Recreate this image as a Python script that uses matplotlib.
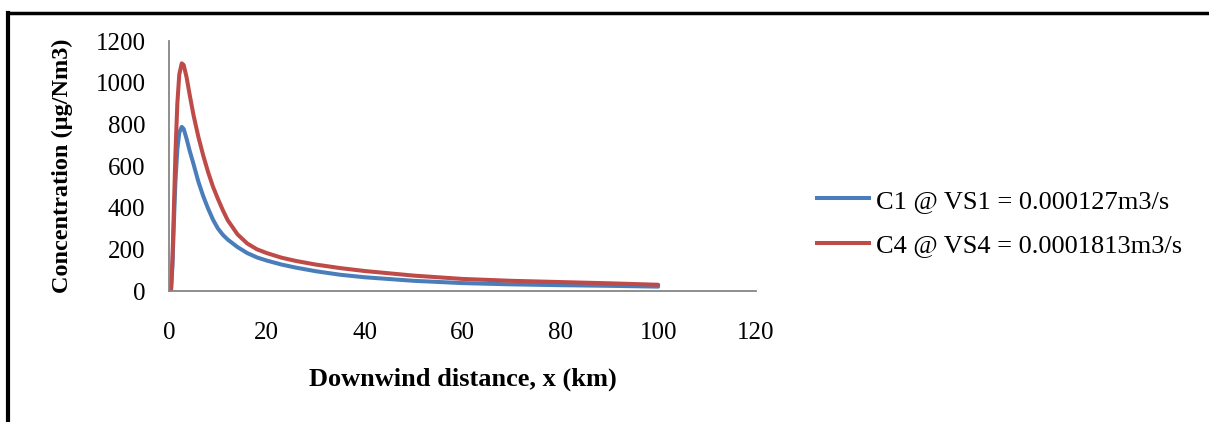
import numpy as np
import matplotlib
matplotlib.use('Agg')
import matplotlib.pyplot as plt
from matplotlib.lines import Line2D

plt.rcParams['font.family'] = ['Liberation Serif', 'DejaVu Serif']

# downwind distance (km) and concentration (ug/Nm3)
x_km = [0.4, 0.7, 1.0, 1.3, 1.7, 2.1, 2.6, 3.0, 3.6, 4.2, 5.0, 6.0, 7.0, 8.0, 9.0,
        10.0, 11.0, 12.0, 14.0, 16.0, 18.0, 20.0, 23.0, 26.0, 30.0, 35.0, 40.0,
        50.0, 60.0, 70.0, 80.0, 90.0, 100.0]
c1 = [0, 120, 330, 520, 680, 760, 788, 778, 730, 675, 610, 525, 455, 395, 342,
      300, 270, 247, 211, 182, 161, 146, 127, 112, 95, 78, 66,
      49, 38, 32, 28, 25, 21]
c4 = [0, 150, 400, 650, 900, 1040, 1093, 1085, 1025, 945, 845, 740, 650, 570, 500,
      442, 388, 340, 272, 228, 200, 182, 160, 144, 127, 110, 96,
      74, 58, 49, 43, 37, 30]
labels = ['C1 @ VS1 = 0.000127m3/s', 'C4 @ VS4 = 0.0001813m3/s']
colors = ['#4A7EBB', '#BE4B48']

fig = plt.figure(figsize=(12.09, 4.22), dpi=100)
ax = fig.add_axes([0.1398, 0.3104, 0.4855, 0.5924])

ax.plot(x_km, c1, color=colors[0], lw=2.9, solid_capstyle='round', solid_joinstyle='round')
ax.plot(x_km, c4, color=colors[1], lw=2.9, solid_capstyle='round', solid_joinstyle='round')

ax.set_xlim(0, 120)
ax.set_ylim(0, 1200)
ax.set_xticks(np.arange(0, 121, 20))
ax.set_yticks(np.arange(0, 1201, 200))
for side in ['top', 'right']:
    ax.spines[side].set_visible(False)
for side in ['left', 'bottom']:
    ax.spines[side].set_color('#868686')
    ax.spines[side].set_linewidth(1.3)
ax.tick_params(axis='both', length=0, labelsize=18)
ax.tick_params(axis='x', pad=22)
ax.tick_params(axis='y', pad=17)

ax.set_xlabel('Downwind distance, x (km)', fontsize=19, fontweight='bold', labelpad=17)
ax.set_ylabel('Concentration (\u00b5g/Nm3)', fontsize=17.5, fontweight='bold', labelpad=16)

handles = [Line2D([], [], color=c, lw=2.9) for c in colors]
fig.legend(handles, labels, loc='center left', bbox_to_anchor=(0.6758, 0.4716),
           frameon=False, fontsize=19, handlelength=1.95, handletextpad=0.3,
           labelspacing=0.78, borderaxespad=0, borderpad=0)

# black frame (top and left edges visible)
fig.add_artist(Line2D([0.0066, 1.0], [0.97, 0.97], color='black', lw=2.5,
                      transform=fig.transFigure))
fig.add_artist(Line2D([0.0066, 0.0066], [0.0, 0.97], color='black', lw=3,
                      transform=fig.transFigure))

fig.savefig('out.png', dpi=100)
